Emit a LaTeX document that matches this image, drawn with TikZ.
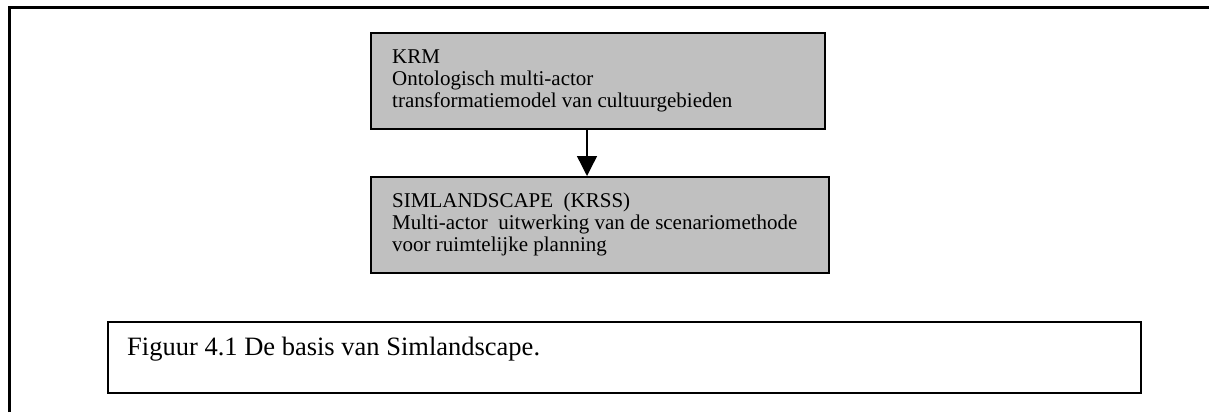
\documentclass[tikz,border=0pt]{standalone}
\usepackage{fontspec}
\setmainfont{Liberation Serif}
\usetikzlibrary{arrows.meta}
\definecolor{boxgray}{RGB}{192,192,192}
\begin{document}
\begin{tikzpicture}[x=1pt,y=-1pt,
  graybox/.style={draw=black, line width=2pt, fill=boxgray, anchor=north west,
    minimum height=96pt, inner sep=0pt},
  % anchored at the baseline of the last of three lines
  boxtext/.style={anchor=base west, align=left, inner sep=0pt,
    font=\fontsize{21pt}{22pt}\selectfont},
  capbox/.style={draw=black, line width=2pt, anchor=north west,
    minimum width=1033pt, minimum height=71pt, inner sep=0pt},
  captext/.style={anchor=base west, inner sep=0pt,
    font=\fontsize{26.5pt}{30pt}\selectfont}]
\useasboundingbox (0,0) rectangle (1209,412);

% outer frame: top and left edges only
\draw[line width=3pt] (9.5,412) -- (9.5,7.5) -- (1209,7.5);

% the two model boxes
\node[graybox, minimum width=454pt] (krm) at (370,32) {};
\node[boxtext] (krmtext) at ([xshift=22pt,yshift=-75pt]krm.north west)
  {KRM\\Ontologisch multi-actor\\transformatiemodel van cultuurgebieden};

\node[graybox, minimum width=458pt] (sim) at (370,176) {};
\node[boxtext] (simtext) at ([xshift=22pt,yshift=-75pt]sim.north west)
  {SIMLANDSCAPE\ \ (KRSS)\\Multi-actor\ \ uitwerking van de scenariomethode\\voor\ ruimtelijke planning};

% connector
\draw[line width=1.4pt, -{Triangle[length=20pt,width=20pt]}]
  ([xshift=217pt]krm.south west) -- ([xshift=217pt]sim.north west);

% caption box
\node[capbox] (cap) at (107,321) {};
\node[captext] (captxt) at ([xshift=20pt,yshift=-34pt]cap.north west)
  {Figuur 4.1 De basis van Simlandscape.};
\end{tikzpicture}
\end{document}
